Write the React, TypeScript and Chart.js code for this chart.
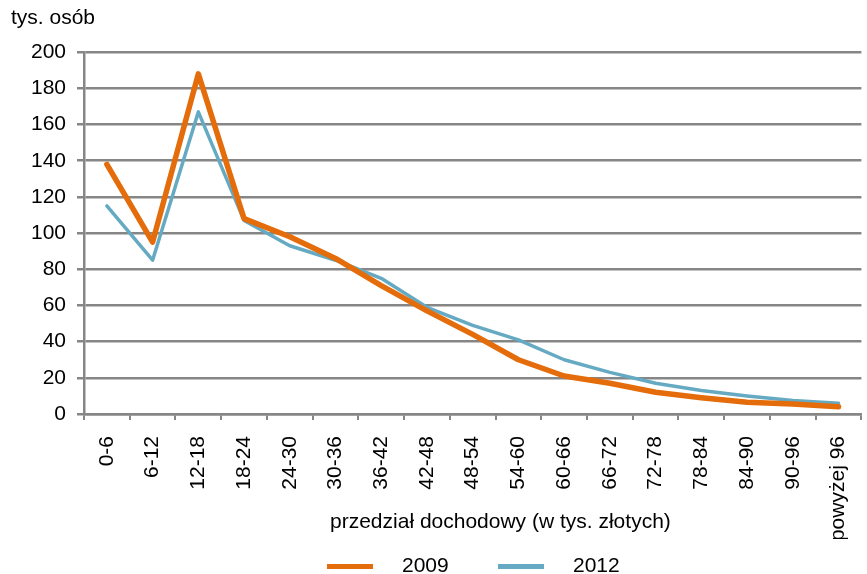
import React, { useEffect, useRef } from "react";
import { Chart, registerables } from "chart.js";

Chart.register(...registerables);

const categories = [
  "0-6", "6-12", "12-18", "18-24", "24-30", "30-36", "36-42", "42-48", "48-54",
  "54-60", "60-66", "66-72", "72-78", "78-84", "84-90", "90-96", "powyżej 96",
];
const values2009 = [138, 95, 188, 108, 98, 86, 71, 57, 44, 30, 21, 17, 12, 9, 6.5, 5.5, 4];
const values2012 = [115, 85, 167, 107, 93, 85, 75, 59, 49, 41, 30, 23, 17, 13, 10, 7.5, 6];
const seriesNames = ["2009", "2012"];
const yAxisLabel = "tys. osób";
const xAxisLabel = "przedział dochodowy (w tys. złotych)";

const ORANGE = "#E46C0A";
const BLUE = "#65AAC2";
const GRID = "#868686";
const FONT = "'Liberation Sans', Arial, sans-serif";

export default function App() {
  const canvasRef = useRef<HTMLCanvasElement | null>(null);

  useEffect(() => {
    if (!canvasRef.current) return;
    const chart = new Chart(canvasRef.current, {
      type: "line",
      data: {
        labels: categories,
        datasets: [
          {
            label: seriesNames[0],
            data: values2009,
            borderColor: ORANGE,
            backgroundColor: ORANGE,
            borderWidth: 5.5,
            pointRadius: 0,
            tension: 0,
            borderJoinStyle: "round",
            borderCapStyle: "round",
          },
          {
            label: seriesNames[1],
            data: values2012,
            borderColor: BLUE,
            backgroundColor: BLUE,
            borderWidth: 3.5,
            pointRadius: 0,
            tension: 0,
            borderJoinStyle: "round",
            borderCapStyle: "round",
          },
        ],
      },
      options: {
        responsive: false,
        animation: false,
        layout: { padding: { left: 11, right: 9, top: 0, bottom: 35 } },
        plugins: {
          legend: { display: false },
          tooltip: { enabled: false },
          title: {
            display: true,
            text: yAxisLabel,
            align: "start",
            color: "#000",
            font: { family: FONT, size: 21, weight: "normal" },
            padding: { top: 6, bottom: 21 },
          },
        },
        scales: {
          x: {
            type: "category",
            offset: true,
            afterFit: (s: any) => {
              s.height = 125;
            },
            grid: {
              offset: true,
              drawOnChartArea: false,
              drawTicks: true,
              tickLength: 6,
              color: GRID,
              lineWidth: 2,
            },
            border: { display: true, color: GRID, width: 2.5 },
            ticks: {
              autoSkip: false,
              maxRotation: 90,
              minRotation: 90,
              padding: 16,
              color: "#000",
              font: { family: FONT, size: 21 },
            },
          },
          y: {
            min: 0,
            max: 200,
            afterFit: (s: any) => {
              s.width = 73;
            },
            grid: {
              color: GRID,
              lineWidth: 2.5,
              tickLength: 7,
              drawTicks: true,
            },
            border: { display: true, color: GRID, width: 2.5 },
            ticks: {
              stepSize: 20,
              padding: 11,
              color: "#000",
              font: { family: FONT, size: 21 },
            },
          },
        },
      },
    });
    return () => chart.destroy();
  }, []);

  const legendItem = (color: string, text: string, lineLeft: number, textLeft: number) => (
    <>
      <div
        style={{
          position: "absolute",
          left: lineLeft,
          top: 564,
          width: 46,
          height: 5,
          background: color,
        }}
      />
      <div
        style={{
          position: "absolute",
          left: textLeft,
          top: 553,
          fontFamily: FONT,
          fontSize: 21,
          lineHeight: "24px",
          color: "#000",
        }}
      >
        {text}
      </div>
    </>
  );

  return (
    <div
      style={{
        position: "fixed",
        left: 0,
        top: 0,
        width: 867,
        height: 574,
        overflow: "hidden",
        background: "#fff",
      }}
    >
      <canvas ref={canvasRef} width={880} height={574} style={{ display: "block" }} />
      <div
        style={{
          position: "absolute",
          left: 330,
          top: 509,
          fontFamily: FONT,
          fontSize: 21,
          lineHeight: "24px",
          color: "#000",
          whiteSpace: "nowrap",
        }}
      >
        {xAxisLabel}
      </div>
      {legendItem(ORANGE, seriesNames[0], 327, 402)}
      {legendItem(BLUE, seriesNames[1], 498, 573)}
    </div>
  );
}
